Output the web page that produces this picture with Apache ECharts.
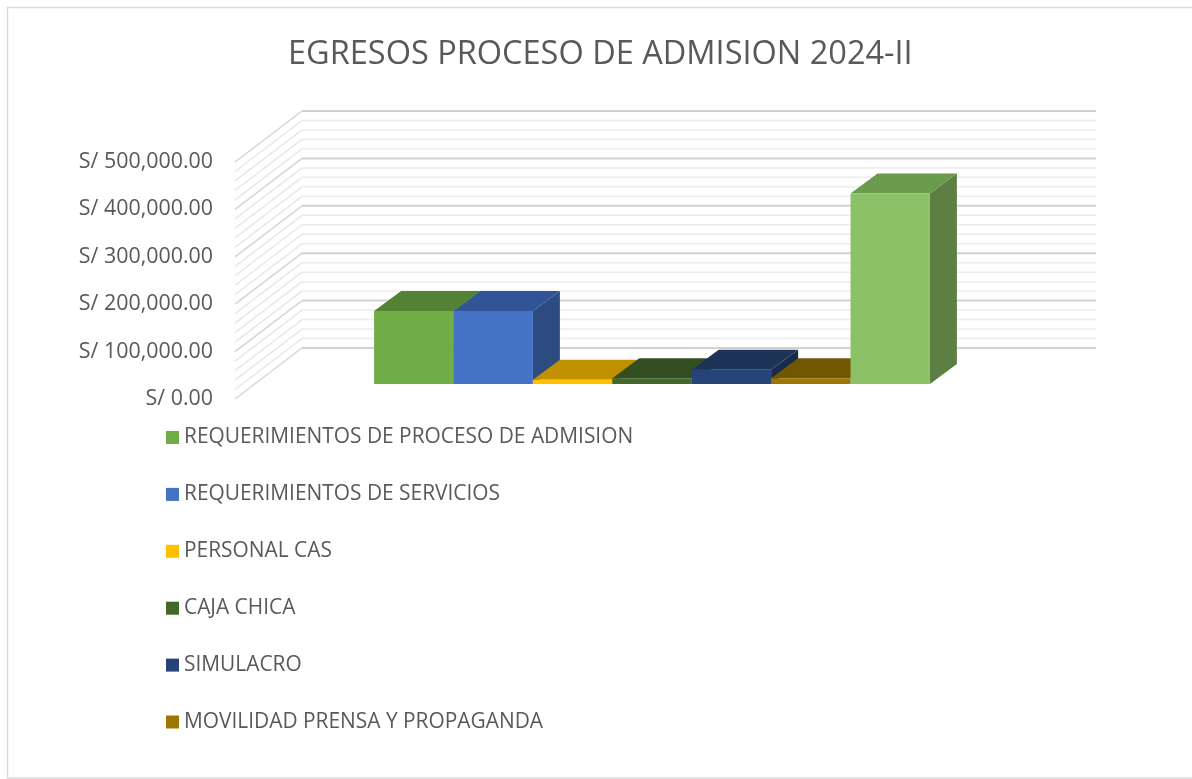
<!DOCTYPE html>
<html>
<head>
<meta charset="utf-8">
<script src="https://cdn.jsdelivr.net/npm/echarts@6/dist/echarts.min.js"></script>
<style>html,body{margin:0;padding:0;background:#fff}#c{width:1192px;height:779px}</style>
</head>
<body>
<div id="c"></div>
<script>
// ---- data ----
const seriesNames = [
  'REQUERIMIENTOS DE PROCESO DE ADMISION',
  'REQUERIMIENTOS DE SERVICIOS',
  'PERSONAL CAS',
  'CAJA CHICA',
  'SIMULACRO',
  'MOVILIDAD PRENSA Y PROPAGANDA',
  'TOTAL'
];
const seriesValues = [154000, 154000, 9000, 12000, 30000, 12000, 402000];
const legendNames = seriesNames.slice(0, 6);
const yTickValues = [0, 100000, 200000, 300000, 400000, 500000];
const titleText = 'EGRESOS PROCESO DE ADMISION 2024-II';

// ---- styles ----
const faceColors = [
  {front:'#70AD47', top:'#548235', side:'#4E7A31'},
  {front:'#4472C4', top:'#2F5597', side:'#2C4B80'},
  {front:'#FFC000', top:'#C09000', side:'#A57C00'},
  {front:'#43682B', top:'#334F22', side:'#2B431D'},
  {front:'#264478', top:'#1D3358', side:'#182B4A'},
  {front:'#9E7703', top:'#735700', side:'#614A00'},
  {front:'#8CC168', top:'#6A9A4C', side:'#5D7F43'}
];
const FRONT_DX = 20, FRONT_DY = -15;   // bar front face offset from floor front edge
const BAR_DX = 27, BAR_DY = -20;       // bar depth
const WALL_DX = 67, WALL_DY = -51;     // back wall offset
const FONT = '"Open Sans", sans-serif';
const TXT = '#595959';

function fmt(v) {
  const s = Math.round(v).toString().replace(/\B(?=(\d{3})+(?!\d))/g, ',');
  return 'S/ ' + s + '.00';
}

const chart = echarts.init(document.getElementById('c'), null, {renderer: 'canvas'});

// gridline levels (major every 100k, minor every 20k)
const gridLevels = [];
for (let v = 0; v <= 500000; v += 20000) gridLevels.push([v, v % 100000 === 0 ? 1 : 0]);

const wallSeries = {
  type: 'custom',
  name: '__wall',
  silent: true,
  z: 1,
  clip: false,
  data: gridLevels,
  encode: {x: -1, y: 0},
  renderItem: function (params, api) {
    const v = api.value(0), major = api.value(1) === 1;
    const a = api.coord([0, v]);
    const b = api.coord([10, v]);
    return {
      type: 'group',
      children: [
        {type: 'line', shape: {x1: a[0], y1: a[1], x2: a[0] + WALL_DX, y2: a[1] + WALL_DY},
         style: {stroke: major ? '#d6d6d6' : '#e8e8e8', lineWidth: 1.5}},
        {type: 'line', shape: {x1: a[0] + WALL_DX, y1: a[1] + WALL_DY, x2: b[0] + WALL_DX, y2: b[1] + WALL_DY},
         style: {stroke: major ? '#d2d2d2' : '#ececec', lineWidth: major ? 2 : 1.5}}
      ]
    };
  }
};

function makeBarSeries(idx) {
  const c = faceColors[idx];
  return {
    type: 'custom',
    name: seriesNames[idx],
    z: 5 + idx,
    clip: false,
    itemStyle: {color: c.front},
    data: [[idx + 2, seriesValues[idx]]],
    renderItem: function (params, api) {
      const pos = api.value(0), v = api.value(1);
      const p0 = api.coord([pos - 0.5, 0]);
      const p1 = api.coord([pos + 0.5, v]);
      const x0 = p0[0] + FRONT_DX, x1 = p1[0] + FRONT_DX;
      const yb = p0[1] + FRONT_DY, yt = p1[1] + FRONT_DY;
      return {
        type: 'group',
        children: [
          {type: 'polygon', shape: {points: [[x1, yt], [x1 + BAR_DX, yt + BAR_DY], [x1 + BAR_DX, yb + BAR_DY], [x1, yb]]},
           style: {fill: c.side}},
          {type: 'polygon', shape: {points: [[x0, yt], [x1, yt], [x1 + BAR_DX, yt + BAR_DY], [x0 + BAR_DX, yt + BAR_DY]]},
           style: {fill: c.top}},
          {type: 'rect', shape: {x: x0, y: yt, width: x1 - x0, height: yb - yt},
           style: {fill: c.front}}
        ]
      };
    }
  };
}

const option = {
  animation: false,
  backgroundColor: '#ffffff',
  title: {
    text: titleText,
    left: 283,
    top: 33,
    textStyle: {fontFamily: FONT, fontSize: 32.5, fontWeight: 'normal', color: TXT}
  },
  legend: {
    data: legendNames,
    orient: 'vertical',
    left: 166,
    top: 427,
    padding: 0,
    itemWidth: 13,
    itemHeight: 13,
    itemGap: 35.9,
    icon: 'rect',
    textStyle: {fontFamily: FONT, fontSize: 20.9, color: TXT, lineHeight: 20}
  },
  grid: {left: 235, right: 163, top: 162, bottom: 380, containLabel: false},
  xAxis: {type: 'value', min: 0, max: 10, show: false},
  yAxis: {
    type: 'value',
    min: 0,
    max: 500000,
    interval: 100000,
    axisLine: {show: false},
    axisTick: {show: false},
    splitLine: {show: false},
    axisLabel: {
      margin: 22,
      fontFamily: FONT,
      fontSize: 21.4,
      color: TXT,
      formatter: function (v) { return yTickValues.indexOf(v) >= 0 ? fmt(v) : ''; }
    }
  },
  graphic: [{
    type: 'rect',
    silent: true,
    z: -10,
    shape: {x: 7.5, y: 7.5, width: 1200, height: 770.5},
    style: {fill: 'none', stroke: '#d9d9d9', lineWidth: 1.5}
  }],
  series: [wallSeries].concat(seriesNames.map(function (n, i) { return makeBarSeries(i); }))
};

chart.setOption(option);
</script>
</body>
</html>
